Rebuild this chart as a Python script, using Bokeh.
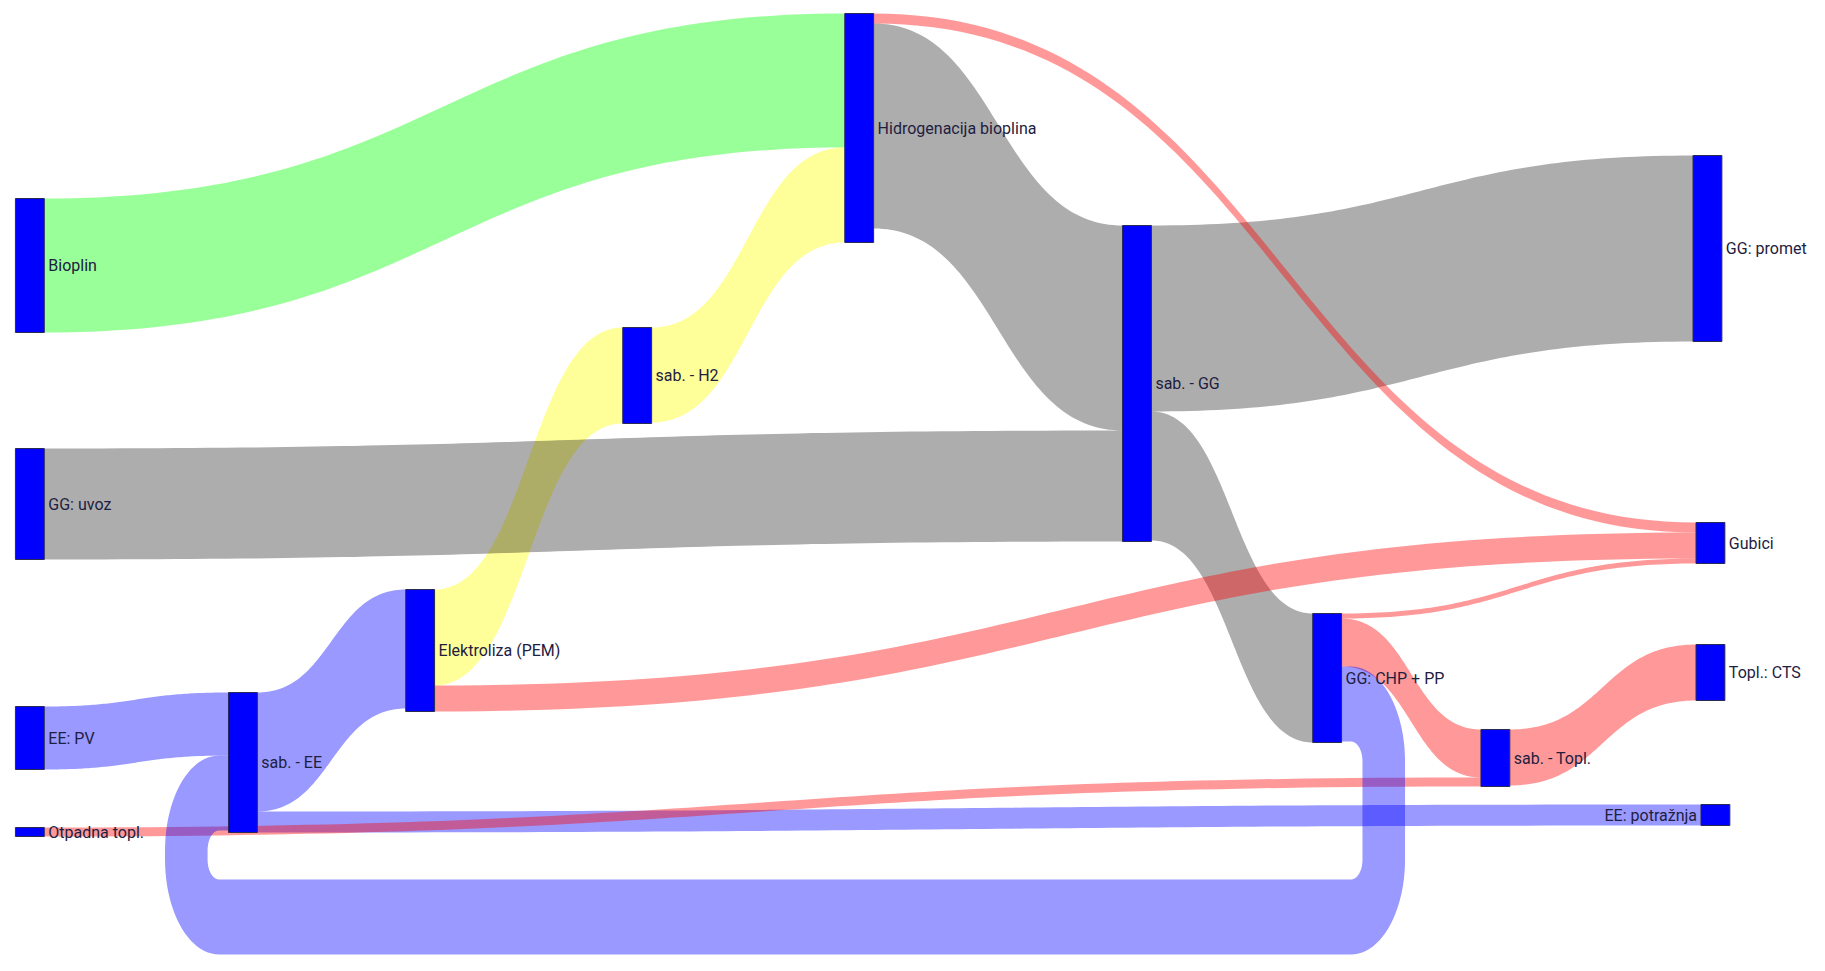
import numpy as np
from bokeh.plotting import figure
from bokeh.models import Range1d, ColumnDataSource
from bokeh.core.properties import value
from bokeh.embed import file_html
from bokeh.resources import INLINE

# ---------------- data ----------------
node_names = ["Bioplin", "GG: uvoz", "EE: PV", "Otpadna topl.", "sab. - EE",
              "Elektroliza (PEM)", "sab. - H2", "Hidrogenacija bioplina", "sab. - GG",
              "GG: CHP + PP", "sab. - Topl.", "GG: promet", "Gubici", "Topl.: CTS",
              "EE: potražnja"]

link_source = ["Bioplin", "sab. - H2", "Hidrogenacija bioplina", "Hidrogenacija bioplina",
               "GG: uvoz", "sab. - GG", "sab. - GG", "EE: PV", "sab. - EE", "sab. - EE",
               "Elektroliza (PEM)", "Elektroliza (PEM)", "GG: CHP + PP", "GG: CHP + PP",
               "GG: CHP + PP", "Otpadna topl.", "sab. - Topl."]
link_target = ["Hidrogenacija bioplina", "Hidrogenacija bioplina", "Gubici", "sab. - GG",
               "sab. - GG", "GG: promet", "GG: CHP + PP", "sab. - EE", "Elektroliza (PEM)",
               "EE: potražnja", "sab. - H2", "Gubici", "Gubici", "sab. - Topl.",
               "sab. - EE", "sab. - Topl.", "Topl.: CTS"]
link_value = [134, 95, 10, 205, 111, 186, 129, 63, 119, 21, 96, 26, 5, 48, 75, 9, 56]
link_carrier = ["bio", "h2", "heat", "gas", "gas", "gas", "gas", "ee", "ee", "ee",
                "h2", "heat", "heat", "heat", "ee", "heat", "heat"]

# ---------------- layout / style ----------------
node_left = [15, 15, 15, 15, 229, 407, 625, 848, 1127, 1318, 1487, 1700, 1703, 1703, 1708]
node_top = [198, 448, 706, 827, 692, 589, 327, 13, 225, 613, 729, 155, 522, 644, 804]
label_on_left = ["EE: potražnja"]
NODE_W = 29
SCALE = 1.0
XC = 0.57          # horizontal compression of the picture (for loop corners)
LOOP_GAP_X = 21
LOOP_GAP_Y = 47
LOOP_R = 20

carrier_color = {"bio": "#00ff00", "h2": "#ffff00", "gas": "#000000",
                 "ee": "#0000ff", "heat": "#ff0000"}
carrier_alpha = {"bio": 0.4, "h2": 0.4, "gas": 0.32, "ee": 0.4, "heat": 0.4}
carrier_rank = {"bio": 0, "h2": 1, "gas": 2, "ee": 3, "heat": 4}

idx = {n: i for i, n in enumerate(node_names)}
n_nodes = len(node_names)
inflow = np.zeros(n_nodes)
outflow = np.zeros(n_nodes)
for s, t, v in zip(link_source, link_target, link_value):
    outflow[idx[s]] += v
    inflow[idx[t]] += v
node_h = np.maximum(inflow, outflow) * SCALE

out_off = list(node_top)
in_off = list(node_top)


def bez(x0, y0, x1, y1, n=80):
    t = np.linspace(0, 1, n)
    xm = (x0 + x1) / 2
    bx = (1 - t) ** 3 * x0 + 3 * (1 - t) ** 2 * t * xm + 3 * (1 - t) * t ** 2 * xm + t ** 3 * x1
    by = (1 - t) ** 3 * y0 + 3 * (1 - t) ** 2 * t * y0 + 3 * (1 - t) * t ** 2 * y1 + t ** 3 * y1
    return bx, by


def arc(cx, cy, rx, ry, a0, a1, n=24):
    a = np.linspace(a0, a1, n)
    return cx + rx * np.cos(a), cy + ry * np.sin(a)


regular = []
circular = []
for k, (s, t, v, c) in enumerate(zip(link_source, link_target, link_value, link_carrier)):
    si, ti = idx[s], idx[t]
    w = v * SCALE
    y0 = out_off[si]
    y1 = in_off[ti]
    out_off[si] += w
    in_off[ti] += w
    xs_ = node_left[si] + NODE_W
    xt_ = node_left[ti]
    if xt_ > xs_:
        tx, ty = bez(xs_, y0, xt_, y1)
        bx, by = bez(xs_, y0 + w, xt_, y1 + w)
        px = np.concatenate([tx, bx[::-1]])
        py = np.concatenate([ty, by[::-1]])
        regular.append((carrier_rank[c], k, px, py, c))
    else:
        r = LOOP_R
        R = r + w
        xr_in = xs_ + LOOP_GAP_X
        xr_out = xr_in + XC * w
        xl_in = xt_ - LOOP_GAP_X
        xl_out = xl_in - XC * w
        yb_in = max(node_top[si] + node_h[si], node_top[ti] + node_h[ti]) + LOOP_GAP_Y
        yb_out = yb_in + w
        P = []
        # outer boundary
        P.append(([xs_], [y0]))
        P.append(arc(xr_out - XC * R, y0 + R, XC * R, R, -np.pi / 2, 0))
        P.append(arc(xr_out - XC * R, yb_out - R, XC * R, R, 0, np.pi / 2))
        P.append(arc(xl_out + XC * R, yb_out - R, XC * R, R, np.pi / 2, np.pi))
        P.append(arc(xl_out + XC * R, y1 + R, XC * R, R, np.pi, 1.5 * np.pi))
        P.append(([xt_], [y1]))
        # inner boundary (reverse)
        P.append(([xt_], [y1 + w]))
        P.append(arc(xl_in + XC * r, y1 + w + r, XC * r, r, 1.5 * np.pi, np.pi))
        P.append(arc(xl_in + XC * r, yb_in - r, XC * r, r, np.pi, np.pi / 2))
        P.append(arc(xr_in - XC * r, yb_in - r, XC * r, r, np.pi / 2, 0))
        P.append(arc(xr_in - XC * r, y0 + w + r, XC * r, r, 0, -np.pi / 2))
        P.append(([xs_], [y0 + w]))
        px = np.concatenate([np.asarray(a) for a, b in P])
        py = np.concatenate([np.asarray(b) for a, b in P])
        circular.append((9, k, px, py, c))

ordered = sorted(regular, key=lambda z: (z[0], z[1])) + circular

p = figure(width=1809, height=955, output_backend="svg", toolbar_location=None,
           x_range=Range1d(0, 1817), y_range=Range1d(955, 0),
           min_border=0, outline_line_color=None, background_fill_color="white")
p.axis.visible = False
p.grid.visible = False

p.patches(xs=[list(z[2]) for z in ordered], ys=[list(z[3]) for z in ordered],
          fill_color=[carrier_color[z[4]] for z in ordered],
          fill_alpha=[carrier_alpha[z[4]] for z in ordered], line_color=None)

nsrc = ColumnDataSource(dict(
    left=node_left, right=[x + NODE_W for x in node_left],
    top=node_top, bottom=[t + h for t, h in zip(node_top, node_h)]))
p.quad(left="left", right="right", top="top", bottom="bottom", source=nsrc,
       fill_color="#0000ff", line_color="#2a2a55", line_width=1)

lx, ly, lt, rx, ry, rt = [], [], [], [], [], []
for i, n in enumerate(node_names):
    yc = node_top[i] + node_h[i] / 2
    if n in label_on_left:
        rx.append(node_left[i] - 4); ry.append(yc); rt.append(n)
    else:
        lx.append(node_left[i] + NODE_W + 4); ly.append(yc); lt.append(n)

common = dict(text_font=value("Roboto"), text_font_size="16px",
              text_baseline="middle", text_color="#1e2040")
p.text(x=lx, y=ly, text=lt, text_align="left", **common)
p.text(x=rx, y=ry, text=rt, text_align="right", **common)

open("out.html", "w").write(file_html(p, INLINE))
